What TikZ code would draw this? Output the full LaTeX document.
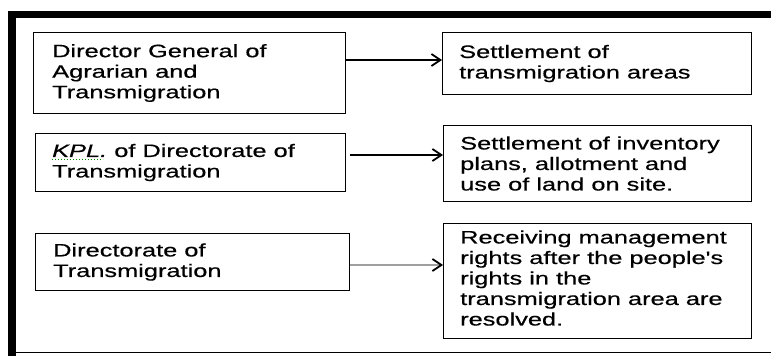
\documentclass[tikz,border=0pt]{standalone}
\usepackage{fontspec}
\setmainfont{Liberation Sans}[FakeStretch=1.41, FakeBold=0.5, Ligatures=TeXOff]
\usetikzlibrary{arrows.meta}
\begin{document}
\begin{tikzpicture}[x=1pt,y=-1pt,
  box/.style={draw=black, line width=1.1pt, anchor=north west, inner sep=0pt},
  txt/.style={anchor=west, align=left, inner sep=0pt, font=\fontsize{18}{20.5}\selectfont, text=black},
  arr/.style={line width=2.1pt, -{Straight Barb[length=9pt,width=12pt,line width=1.8pt]}},
  arrg/.style={draw=gray!75, line width=1.2pt, -{Straight Barb[length=9pt,width=12pt,line width=1.8pt,color=black]}}]
\useasboundingbox (0,0) rectangle (771,356);
% frame
\fill[black] (8,11) rectangle (771,18);
\fill[black] (8,11) rectangle (16,356);
\draw[line width=1pt] (16,352.5) -- (771,352.5);
% left boxes
\node[box, minimum width=312pt, minimum height=81pt] (b1) at (33,32) {};
\node[txt] (t1) at ([xshift=19pt]b1.west) {Director General of\\Agrarian and\\Transmigration};
\node[box, minimum width=310pt, minimum height=58pt] (b2) at (35,133) {};
\node[txt] (t2) at ([xshift=17pt]b2.west) {\textit{KPL.} of Directorate of\\Transmigration};
\draw[green!55!black, line width=1pt, dotted] (52,159) -- (103,159);
\node[box, minimum width=314pt, minimum height=57pt] (b3) at (35,233) {};
\node[txt] (t3) at ([xshift=18pt]b3.west) {Directorate of\\Transmigration};
% right boxes
\node[box, minimum width=309pt, minimum height=62pt] (r1) at (442,32) {};
\node[txt] (s1) at ([xshift=17pt]r1.west) {Settlement of\\transmigration areas};
\node[box, minimum width=308pt, minimum height=76pt] (r2) at (443,125) {};
\node[txt] (s2) at ([xshift=17pt]r2.west) {Settlement of inventory\\plans, allotment and\\use of land on site.};
\node[box, minimum width=308pt, minimum height=115pt] (r3) at (443,223) {};
\node[txt] (s3) at ([xshift=17pt,yshift=3pt]r3.west) {Receiving management\\rights after the people's\\rights in the\\transmigration area are\\resolved.};
% arrows
\draw[arr] (b1.east |- 0,60) -- (r1.west |- 0,60);
\draw[arr] ([xshift=4pt]b2.east |- 0,155) -- (r2.west |- 0,155);
\draw[arrg] (b3.east |- 0,265) -- (r3.west |- 0,265);
\end{tikzpicture}
\end{document}
